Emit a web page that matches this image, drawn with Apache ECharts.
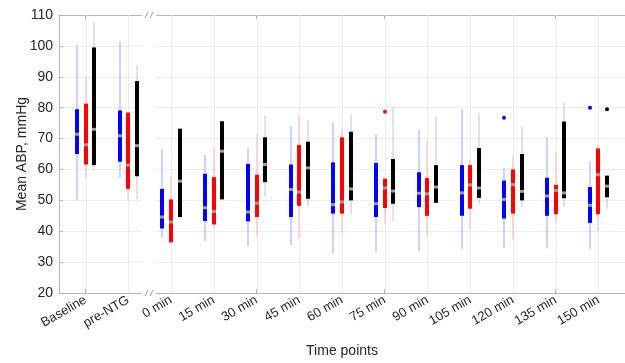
<!DOCTYPE html>
<html>
<head>
<meta charset="utf-8">
<script src="https://cdn.jsdelivr.net/npm/echarts@6/dist/echarts.min.js"></script>
<style>
  html, body { margin: 0; padding: 0; background: #fff; }
  #chart { width: 625px; height: 363px; }
</style>
</head>
<body>
<div id="chart"></div>
<script>
const categories = ['Baseline', 'pre-NTG', '0 min', '15 min', '30 min', '45 min', '60 min',
  '75 min', '90 min', '105 min', '120 min', '135 min', '150 min'];

// [whisker low, q1, median, q3, whisker high]
const blueStats = [
  [50.0, 65.0, 71.4, 79.5, 100.4],
  [57.2, 62.5, 70.9, 79.1, 101.4],
  [38.0, 40.9, 44.6, 53.7, 66.6],
  [36.8, 43.3, 47.6, 58.6, 64.7],
  [35.2, 43.2, 46.2, 61.8, 66.9],
  [35.5, 44.6, 53.5, 61.6, 73.9],
  [32.8, 45.7, 48.6, 62.3, 75.2],
  [33.2, 44.6, 48.9, 62.1, 71.4],
  [33.6, 47.8, 52.3, 59.1, 72.7],
  [34.2, 45.0, 52.4, 61.4, 79.7],
  [34.7, 44.1, 50.3, 56.4, 60.5],
  [34.4, 45.0, 51.4, 57.3, 70.4],
  [34.2, 42.7, 48.4, 54.3, 62.5]
];
const redStats = [
  [57.2, 61.6, 68.0, 81.3, 90.4],
  [50.3, 53.7, 61.4, 78.4, 78.4],
  [36.4, 36.4, 43.0, 50.3, 58.0],
  [40.9, 42.2, 46.4, 57.5, 66.9],
  [38.4, 44.6, 49.1, 58.3, 71.4],
  [37.7, 48.2, 52.7, 67.9, 77.3],
  [39.3, 45.7, 49.5, 70.4, 73.2],
  [42.3, 47.5, 54.0, 57.0, 57.0],
  [38.7, 45.0, 52.1, 57.2, 69.1],
  [40.5, 47.3, 55.0, 61.4, 63.4],
  [37.3, 45.7, 55.1, 60.0, 64.4],
  [42.8, 45.5, 53.2, 55.0, 65.5],
  [40.0, 45.5, 58.3, 66.8, 67.9]
];
const blackStats = [
  [60.0, 61.4, 73.0, 99.5, 107.9],
  [50.3, 57.8, 67.7, 88.6, 93.6],
  [44.0, 44.6, 56.2, 73.2, 73.5],
  [50.3, 50.3, 65.9, 75.6, 75.6],
  [51.4, 55.9, 61.6, 70.4, 77.5],
  [48.0, 50.5, 60.5, 69.0, 75.9],
  [45.4, 50.0, 53.7, 72.2, 77.8],
  [43.3, 48.9, 53.0, 63.4, 80.3],
  [49.0, 49.2, 54.3, 61.4, 77.1],
  [48.7, 50.8, 54.0, 66.9, 78.4],
  [47.8, 50.0, 52.9, 65.0, 73.9],
  [47.8, 50.7, 52.4, 75.5, 81.6],
  [47.3, 51.0, 54.6, 58.0, 58.0]
];

// [category index, value]
const blueOutliers = [[10, 76.7], [12, 80.0]];
const redOutliers = [[7, 78.7]];
const blackOutliers = [[12, 79.5]];

const yTicks = [20, 30, 40, 50, 60, 70, 80, 90, 100, 110];
const catIndex = categories.map((c, i) => i);

const groups = [
  { stats: blueStats, outliers: blueOutliers, offset: -0.2, color: '#0000ff', light: '#a3a3ff' },
  { stats: redStats, outliers: redOutliers, offset: 0, color: '#ff0000', light: '#ffb3b3' },
  { stats: blackStats, outliers: blackOutliers, offset: 0.2, color: '#000000', light: '#c4c4c4' }
];

const textColor = '#262626';
const axisColor = '#b5b5b5';
const gridColor = '#ececec';
const font = 'Liberation Sans, Arial, sans-serif';

function boxSeries(g) {
  return {
    type: 'custom',
    data: g.stats.map((s, i) => [i].concat(s)),
    encode: { x: 0, y: [1, 2, 3, 4, 5] },
    renderItem: function (params, api) {
      const x = api.value(0) + g.offset;
      const lo = api.coord([x, api.value(1)]);
      const q1 = api.coord([x, api.value(2)]);
      const md = api.coord([x, api.value(3)]);
      const q3 = api.coord([x, api.value(4)]);
      const hi = api.coord([x, api.value(5)]);
      const px = Math.round(lo[0]);
      return {
        type: 'group',
        children: [
          { type: 'line', shape: { x1: px, y1: lo[1], x2: px, y2: hi[1] },
            style: { stroke: g.light, lineWidth: 1 } },
          { type: 'rect', shape: { x: px - 2, y: q3[1], width: 4, height: q1[1] - q3[1] },
            style: { fill: g.color } },
          { type: 'rect', shape: { x: px - 2, y: md[1] - 1.5, width: 4, height: 3 },
            style: { fill: '#9c9c9c' } }
        ]
      };
    },
    z: 3
  };
}

function outlierSeries(g) {
  return {
    type: 'custom',
    data: g.outliers,
    encode: { x: 0, y: 1 },
    renderItem: function (params, api) {
      const p = api.coord([api.value(0) + g.offset, api.value(1)]);
      return { type: 'circle', shape: { cx: Math.round(p[0]), cy: p[1], r: 2 }, style: { fill: g.color } };
    },
    z: 3
  };
}

// vertical grid lines at each time point
const vGridSeries = {
  type: 'custom',
  data: catIndex.map((i) => [i, 20, 110]),
  encode: { x: 0, y: [1, 2] },
  renderItem: function (params, api) {
    const b = api.coord([api.value(0), api.value(1)]);
    const t = api.coord([api.value(0), api.value(2)]);
    const px = Math.round(b[0]) + 0.5;
    return { type: 'line', shape: { x1: px, y1: t[1], x2: px, y2: b[1] },
      style: { stroke: gridColor, lineWidth: 1 } };
  },
  silent: true,
  z: 1
};

// axis break "//" between pre-NTG and 0 min
const breakSeries = {
  type: 'custom',
  data: [[1.5, 20, 110]],
  encode: { x: 0, y: [1, 2] },
  renderItem: function (params, api) {
    const b = api.coord([api.value(0), api.value(1)]);
    const t = api.coord([api.value(0), api.value(2)]);
    const px = Math.round(b[0]) - 1;
    const marks = [];
    [t[1], b[1]].forEach(function (yy) {
      [-2.5, 2.5].forEach(function (d) {
        marks.push({ type: 'line', shape: { x1: px + d - 1.5, y1: yy + 3, x2: px + d + 1.5, y2: yy - 3 },
          style: { stroke: '#999999', lineWidth: 1 } });
      });
    });
    return {
      type: 'group',
      children: [
        { type: 'rect', shape: { x: px - 7, y: t[1] - 2, width: 14, height: b[1] - t[1] + 4 },
          style: { fill: '#ffffff' } }
      ].concat(marks)
    };
  },
  silent: true,
  z: 5
};

const chart = echarts.init(document.getElementById('chart'));
chart.setOption({
  animation: false,
  grid: { left: 59, top: 15, width: 574, height: 280 },
  xAxis: [
    {
      type: 'value', min: -0.62, max: 12.62, position: 'bottom',
      name: 'Time points', nameLocation: 'middle', nameGap: 51, nameMoveOverlap: false,
      nameTextStyle: { color: textColor, fontSize: 14, fontFamily: font },
      axisLine: { onZero: false, lineStyle: { color: axisColor } },
      axisTick: { inside: true, length: 4, customValues: catIndex, lineStyle: { color: axisColor } },
      axisLabel: {
        customValues: catIndex, rotate: 30, margin: 6,
        color: textColor, fontSize: 13, fontFamily: font,
        formatter: function (v) { return categories[Math.round(v)]; }
      },
      splitLine: { show: false }
    },
    {
      type: 'value', min: -0.62, max: 12.62, position: 'top',
      axisLine: { show: true, onZero: false, lineStyle: { color: axisColor } },
      axisTick: { inside: true, length: 4, customValues: catIndex, lineStyle: { color: axisColor } },
      axisLabel: { show: false },
      splitLine: { show: false }
    }
  ],
  yAxis: {
    type: 'value', min: 20, max: 110, interval: 10,
    name: 'Mean ABP, mmHg', nameLocation: 'middle', nameGap: 30, nameMoveOverlap: false,
    nameTextStyle: { color: textColor, fontSize: 14, fontFamily: font },
    axisLine: { show: true, onZero: false, lineStyle: { color: axisColor } },
    axisTick: { show: true, inside: true, length: 4, lineStyle: { color: axisColor } },
    axisLabel: {
      color: textColor, fontSize: 14, fontFamily: font, margin: 6,
      formatter: function (v) { return yTicks.indexOf(v) >= 0 ? String(v) : ''; }
    },
    splitLine: { show: true, lineStyle: { color: gridColor } }
  },
  series: [vGridSeries].concat(groups.map(boxSeries)).concat(groups.map(outlierSeries)).concat([breakSeries])
});
</script>
</body>
</html>
